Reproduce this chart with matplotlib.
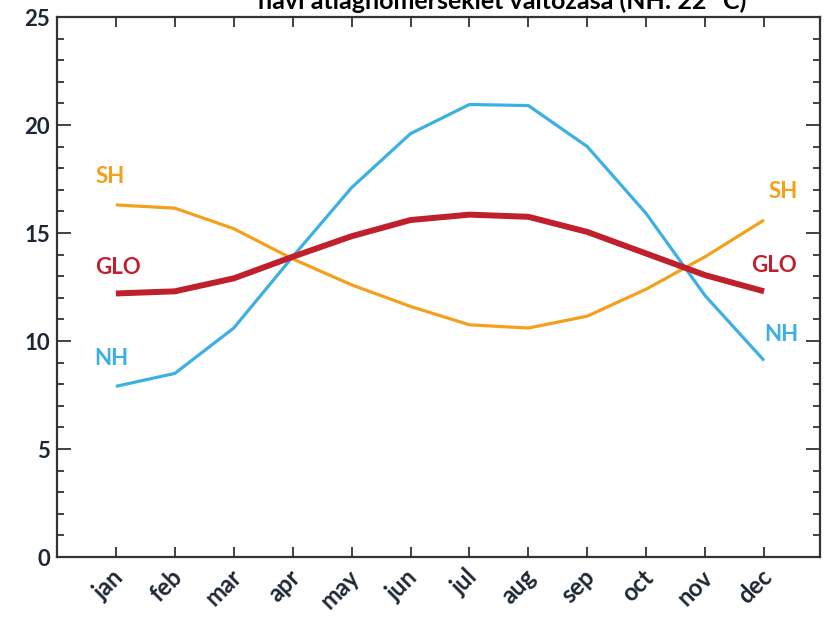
import numpy as np
import matplotlib.pyplot as plt
import matplotlib.transforms as mtransforms
from matplotlib.ticker import MultipleLocator

# monthly mean temperatures
months = ['jan', 'feb', 'mar', 'apr', 'may', 'jun',
          'jul', 'aug', 'sep', 'oct', 'nov', 'dec']
nh = [7.9, 8.5, 10.6, 13.9, 17.1, 19.6, 20.95, 20.9, 19.0, 15.9, 12.1, 9.1]
sh = [16.3, 16.15, 15.2, 13.8, 12.6, 11.6, 10.75, 10.6, 11.15, 12.4, 13.9, 15.6]
glo = [12.2, 12.3, 12.9, 13.9, 14.85, 15.6, 15.85, 15.75, 15.05, 14.05, 13.05, 12.3]

title = 'havi átlaghőmérséklet változása (NH: 22 °C)'

c_nh = '#3db0e3'
c_sh = '#f5a01c'
c_glo = '#c0202c'
txt = '#1d2633'

plt.rcParams['font.family'] = ['Lato', 'DejaVu Sans']

fig = plt.figure(figsize=(8.27, 6.17), dpi=100)
ax = fig.add_axes([57 / 827, 60 / 617, 763 / 827, 540 / 617])

x = np.arange(len(months))
ax.plot(x, sh, color=c_sh, lw=2.3, solid_capstyle='butt')
ax.plot(x, nh, color=c_nh, lw=2.3, solid_capstyle='butt')
ax.plot(x, glo, color=c_glo, lw=4.3, solid_capstyle='butt')

ax.set_xlim(-1, 11.95)
ax.set_ylim(0, 25)

# series labels at both ends
lab = dict(fontsize=16, fontweight='bold', ha='center', va='center')
ax.text(-0.1, 17.6, 'SH', color=c_sh, **lab)
ax.text(0.03, 13.4, 'GLO', color=c_glo, **lab)
ax.text(-0.07, 9.2, 'NH', color=c_nh, **lab)
ax.text(11.32, 16.9, 'SH', color=c_sh, **lab)
ax.text(11.17, 13.5, 'GLO', color=c_glo, **lab)
ax.text(11.3, 10.3, 'NH', color=c_nh, **lab)

for s in ax.spines.values():
    s.set_linewidth(1.6)
    s.set_color('#333333')

ax.set_xticks(x)
ax.set_xticklabels(months)
ax.yaxis.set_major_locator(MultipleLocator(5))
ax.yaxis.set_minor_locator(MultipleLocator(1))
ax.tick_params(axis='x', which='major', direction='in', length=7, width=1.3,
               top=True, bottom=True, color='#333333', pad=6)
ax.tick_params(axis='y', which='major', direction='in', length=10, width=1.3,
               left=True, right=True, color='#333333', pad=5)
ax.tick_params(axis='y', which='minor', direction='in', length=5, width=1.3,
               left=True, right=True, color='#333333')

for t in ax.get_yticklabels():
    t.set_fontsize(16)
    t.set_fontweight('bold')
    t.set_color(txt)

offset = mtransforms.ScaledTranslation(12 / 100, 0, fig.dpi_scale_trans)
for t in ax.get_xticklabels():
    t.set_fontsize(17)
    t.set_fontweight('bold')
    t.set_color(txt)
    t.set_rotation(45)
    t.set_ha('right')
    t.set_va('top')
    t.set_transform(t.get_transform() + offset)

# title is cut off by the top of the image, as in the original
fig.text(0.607, 0.998, title, fontsize=18, fontweight='bold', color='black',
         ha='center', va='center')

fig.savefig('out.png', dpi=100)
